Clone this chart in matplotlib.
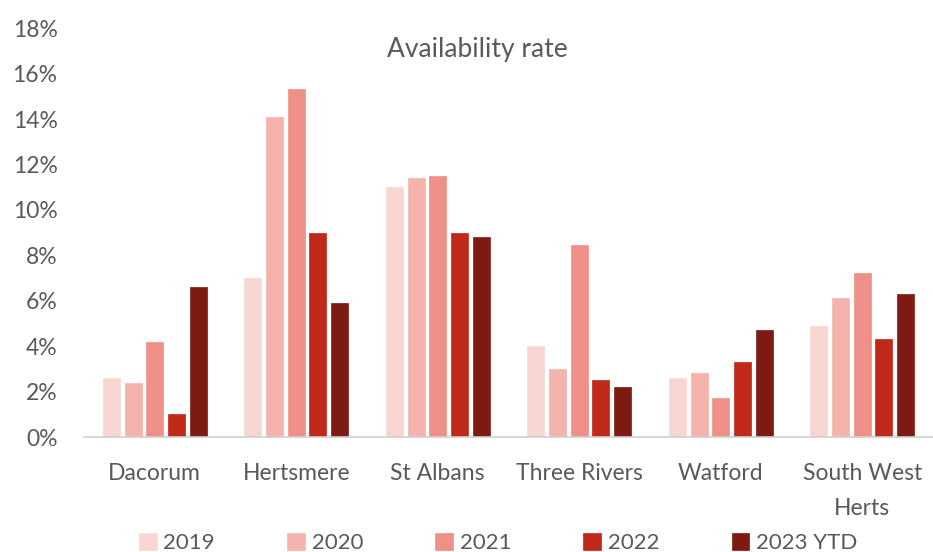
import matplotlib
matplotlib.use("Agg")
import matplotlib.pyplot as plt
import numpy as np
from matplotlib.ticker import FuncFormatter

categories = ["Dacorum", "Hertsmere", "St Albans", "Three Rivers", "Watford", "South West\nHerts"]
series_names = ["2019", "2020", "2021", "2022", "2023 YTD"]
v2019 = [2.6, 7.0, 11.0, 4.0, 2.6, 4.9]
v2020 = [2.4, 14.1, 11.4, 3.0, 2.8, 6.1]
v2021 = [4.2, 15.3, 11.5, 8.45, 1.7, 7.2]
v2022 = [1.0, 9.0, 9.0, 2.5, 3.3, 4.3]
v2023 = [6.6, 5.9, 8.8, 2.2, 4.7, 6.3]
yticks = [0, 2, 4, 6, 8, 10, 12, 14, 16, 18]

colors = ["#F8D7D3", "#F4B3AC", "#EE9087", "#C0281A", "#7D1A11"]
values = [v2019, v2020, v2021, v2022, v2023]

plt.rcParams['font.family'] = ['Lato', 'DejaVu Sans']
fig = plt.figure(figsize=(9.33, 5.52), dpi=100)
ax = fig.add_axes([0.09, 0.2083, 0.91, 0.7407])

x = np.arange(len(categories))
step = 0.153
width = 0.12
for i, (vals, col, name) in enumerate(zip(values, colors, series_names)):
    ax.bar(x + (i - 2) * step, vals, width=width, color=col, label=name,
           edgecolor=col, linewidth=0.5)

ax.set_xlim(-0.5, 5.5)
ax.set_ylim(0, 18)
ax.set_yticks(yticks)
ax.yaxis.set_major_formatter(FuncFormatter(lambda v, p: f"{int(v)}%"))
ax.set_xticks(x)
ax.set_xticklabels(categories)
for lbl in ax.get_xticklabels():
    lbl.set_linespacing(1.8)
for s in ["top", "right", "left"]:
    ax.spines[s].set_visible(False)
ax.spines["bottom"].set_color("#D0D0D0")
ax.spines["bottom"].set_linewidth(1.2)
ax.tick_params(axis="both", length=0, labelsize=16.5, colors="#595959")
ax.tick_params(axis="y", pad=19)
ax.tick_params(axis="x", pad=19)

fig.text(0.512, 1 - 50 / 552, "Availability rate", ha="center",
         va="center", fontsize=19, color="#595959")

fig.legend(loc="center", bbox_to_anchor=(0.534, 0.017), ncol=5, frameon=False,
           fontsize=16, labelcolor="#595959", handlelength=0.8, handleheight=0.8,
           handletextpad=0.3, columnspacing=3.25)

fig.savefig("out.png", dpi=100)
